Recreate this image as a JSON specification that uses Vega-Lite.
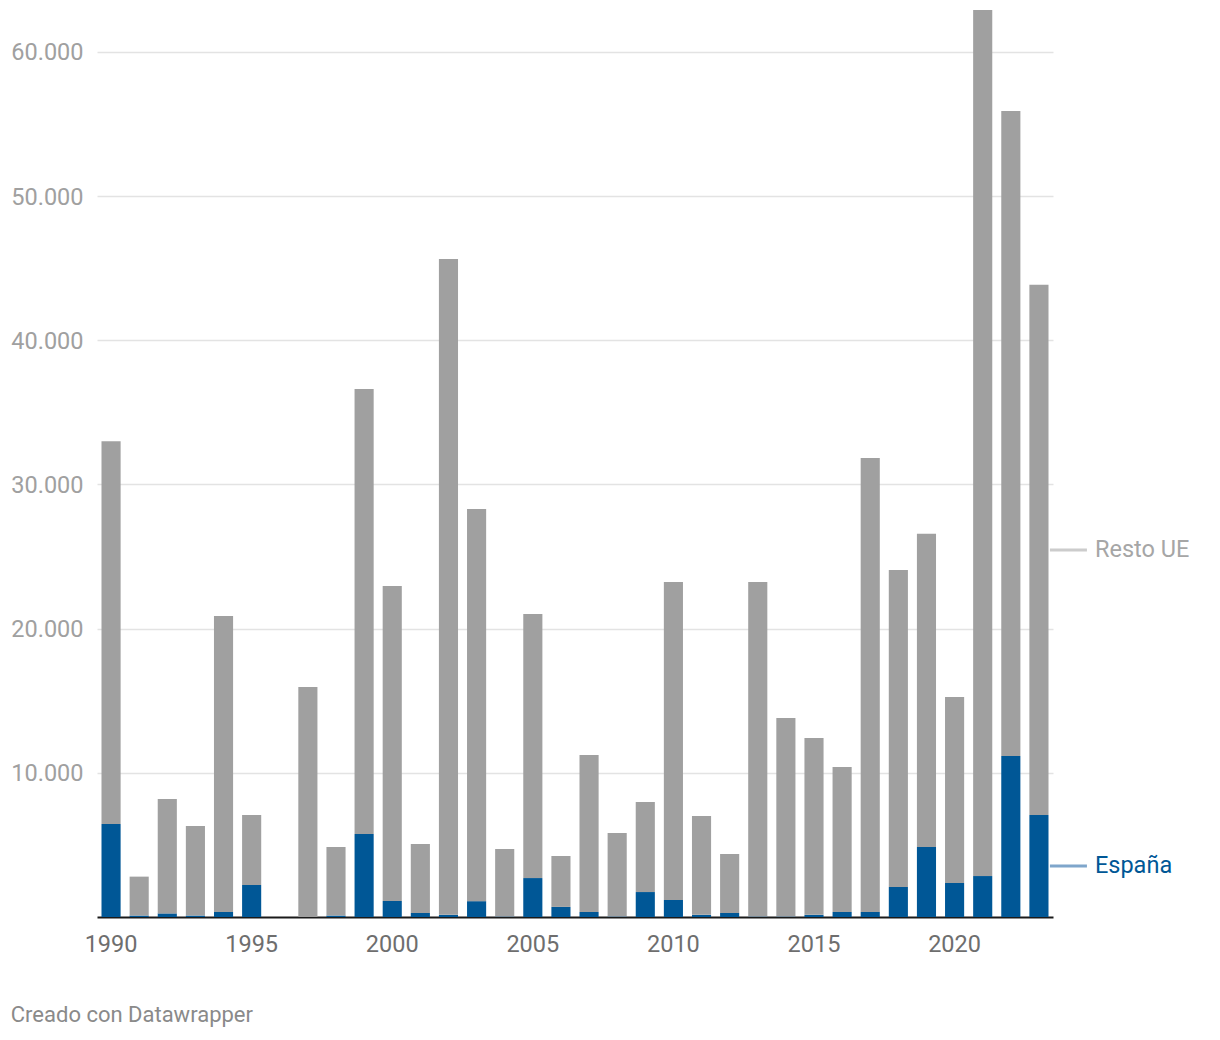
{
  "$schema": "https://vega.github.io/schema/vega-lite/v6.json",
  "autosize": "none",
  "width": 956,
  "height": 907,
  "padding": {"left": 97, "top": 10, "right": 167, "bottom": 123},
  "background": "white",
  "config": {
    "view": {"stroke": null},
    "font": "Roboto"
  },
  "title": {
    "text": "Creado con Datawrapper",
    "orient": "bottom",
    "anchor": "start",
    "frame": "bounds",
    "dx": 0,
    "offset": 49,
    "fontSize": 22,
    "fontWeight": "normal",
    "color": "#8a8a8a",
    "font": "Roboto"
  },
  "data": {
    "values": [
      {"year": 1990, "serie": "España", "value": 6450}, {"year": 1990, "serie": "Resto UE", "value": 26550},
      {"year": 1991, "serie": "España", "value": 100}, {"year": 1991, "serie": "Resto UE", "value": 2700},
      {"year": 1992, "serie": "España", "value": 250}, {"year": 1992, "serie": "Resto UE", "value": 7930},
      {"year": 1993, "serie": "España", "value": 100}, {"year": 1993, "serie": "Resto UE", "value": 6210},
      {"year": 1994, "serie": "España", "value": 350}, {"year": 1994, "serie": "Resto UE", "value": 20530},
      {"year": 1995, "serie": "España", "value": 2220}, {"year": 1995, "serie": "Resto UE", "value": 4850},
      {"year": 1996, "serie": "España", "value": 0}, {"year": 1996, "serie": "Resto UE", "value": 0},
      {"year": 1997, "serie": "España", "value": 0}, {"year": 1997, "serie": "Resto UE", "value": 15950},
      {"year": 1998, "serie": "España", "value": 100}, {"year": 1998, "serie": "Resto UE", "value": 4760},
      {"year": 1999, "serie": "España", "value": 5760}, {"year": 1999, "serie": "Resto UE", "value": 30860},
      {"year": 2000, "serie": "España", "value": 1110}, {"year": 2000, "serie": "Resto UE", "value": 21850},
      {"year": 2001, "serie": "España", "value": 280}, {"year": 2001, "serie": "Resto UE", "value": 4780},
      {"year": 2002, "serie": "España", "value": 150}, {"year": 2002, "serie": "Resto UE", "value": 45490},
      {"year": 2003, "serie": "España", "value": 1100}, {"year": 2003, "serie": "Resto UE", "value": 27200},
      {"year": 2004, "serie": "España", "value": 30}, {"year": 2004, "serie": "Resto UE", "value": 4690},
      {"year": 2005, "serie": "España", "value": 2700}, {"year": 2005, "serie": "Resto UE", "value": 18320},
      {"year": 2006, "serie": "España", "value": 700}, {"year": 2006, "serie": "Resto UE", "value": 3530},
      {"year": 2007, "serie": "España", "value": 350}, {"year": 2007, "serie": "Resto UE", "value": 10890},
      {"year": 2008, "serie": "España", "value": 30}, {"year": 2008, "serie": "Resto UE", "value": 5800},
      {"year": 2009, "serie": "España", "value": 1730}, {"year": 2009, "serie": "Resto UE", "value": 6250},
      {"year": 2010, "serie": "España", "value": 1180}, {"year": 2010, "serie": "Resto UE", "value": 22060},
      {"year": 2011, "serie": "España", "value": 150}, {"year": 2011, "serie": "Resto UE", "value": 6850},
      {"year": 2012, "serie": "España", "value": 280}, {"year": 2012, "serie": "Resto UE", "value": 4090},
      {"year": 2013, "serie": "España", "value": 30}, {"year": 2013, "serie": "Resto UE", "value": 23210},
      {"year": 2014, "serie": "España", "value": 30}, {"year": 2014, "serie": "Resto UE", "value": 13770},
      {"year": 2015, "serie": "España", "value": 150}, {"year": 2015, "serie": "Resto UE", "value": 12270},
      {"year": 2016, "serie": "España", "value": 350}, {"year": 2016, "serie": "Resto UE", "value": 10050},
      {"year": 2017, "serie": "España", "value": 350}, {"year": 2017, "serie": "Resto UE", "value": 31490},
      {"year": 2018, "serie": "España", "value": 2080}, {"year": 2018, "serie": "Resto UE", "value": 21990},
      {"year": 2019, "serie": "España", "value": 4860}, {"year": 2019, "serie": "Resto UE", "value": 21710},
      {"year": 2020, "serie": "España", "value": 2360}, {"year": 2020, "serie": "Resto UE", "value": 12900},
      {"year": 2021, "serie": "España", "value": 2840}, {"year": 2021, "serie": "Resto UE", "value": 60060},
      {"year": 2022, "serie": "España", "value": 11170}, {"year": 2022, "serie": "Resto UE", "value": 44730},
      {"year": 2023, "serie": "España", "value": 7070}, {"year": 2023, "serie": "Resto UE", "value": 36770}
    ]
  },
  "encoding": {
    "x": {
      "field": "year",
      "type": "ordinal",
      "scale": {"paddingInner": 0.32, "paddingOuter": 0.16},
      "axis": {
        "title": null,
        "values": [1990, 1995, 2000, 2005, 2010, 2015, 2020],
        "labelAngle": 0,
        "labelFontSize": 23.5,
        "labelColor": "#6e6e6e",
        "labelFont": "Roboto",
        "labelPadding": 15,
        "ticks": false,
        "domainColor": "#1a1a1a",
        "domainWidth": 2,
        "grid": false
      }
    }
  },
  "layer": [
    {
      "mark": {"type": "bar", "stroke": null},
      "encoding": {
        "y": {
          "field": "value",
          "type": "quantitative",
          "stack": "zero",
          "scale": {"domain": [0, 62900], "nice": false, "zero": true},
          "axis": {
            "title": null,
            "values": [10000, 20000, 30000, 40000, 50000, 60000],
            "labelExpr": "replace(format(datum.value, ','), ',', '.')",
            "labelFontSize": 23.5,
            "labelColor": "#a0a0a0",
            "labelFont": "Roboto",
            "labelPadding": 14,
            "labelOffset": 1,
            "ticks": false,
            "domain": false,
            "grid": true,
            "gridColor": "#e3e3e3",
            "gridWidth": 1.5
          }
        },
        "color": {
          "field": "serie",
          "type": "nominal",
          "scale": {"domain": ["España", "Resto UE"], "range": ["#005796", "#a0a0a0"]},
          "legend": null
        },
        "order": {"field": "serie", "sort": "ascending"}
      }
    },
    {
      "transform": [
        {"stack": "value", "groupby": ["year"], "sort": [{"field": "serie", "order": "ascending"}], "as": ["v0", "v1"]},
        {"calculate": "(datum.v0 + datum.v1) / 2", "as": "mid"},
        {"filter": "datum.year == 2023"}
      ],
      "mark": {"type": "rule", "strokeWidth": 3, "xOffset": 11, "x2Offset": 48},
      "encoding": {
        "x2": {"field": "year"},
        "y": {"field": "mid", "type": "quantitative"},
        "color": {
          "field": "serie",
          "type": "nominal",
          "scale": null
        },
        "stroke": {
          "field": "serie",
          "type": "nominal",
          "scale": {"domain": ["España", "Resto UE"], "range": ["#7fa6cb", "#cccccc"]},
          "legend": null
        }
      }
    },
    {
      "transform": [
        {"stack": "value", "groupby": ["year"], "sort": [{"field": "serie", "order": "ascending"}], "as": ["v0", "v1"]},
        {"calculate": "(datum.v0 + datum.v1) / 2", "as": "mid"},
        {"filter": "datum.year == 2023"}
      ],
      "mark": {"type": "text", "align": "left", "baseline": "middle", "dx": 56, "fontSize": 23.5, "font": "Roboto"},
      "encoding": {
        "y": {"field": "mid", "type": "quantitative"},
        "text": {"field": "serie"},
        "fill": {
          "field": "serie",
          "type": "nominal",
          "scale": {"domain": ["España", "Resto UE"], "range": ["#005796", "#a6a6a6"]},
          "legend": null
        }
      }
    }
  ]
}
